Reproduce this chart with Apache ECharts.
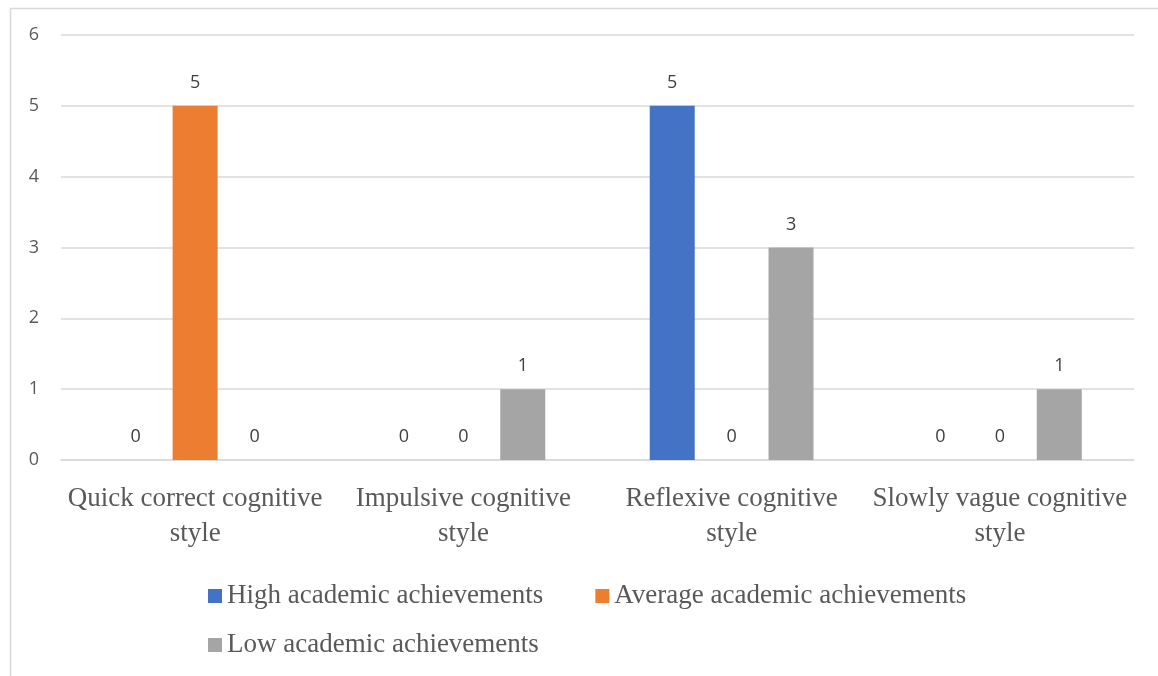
<!DOCTYPE html>
<html>
<head>
<meta charset="utf-8">
<script src="https://cdn.jsdelivr.net/npm/echarts@6/dist/echarts.min.js"></script>
<style>
html,body{margin:0;padding:0;background:#fff;}
#c{width:1158px;height:676px;}
</style>
</head>
<body>
<div id="c"></div>
<script>
const categories = ["Quick correct cognitive style", "Impulsive cognitive style", "Reflexive cognitive style", "Slowly vague cognitive style"];
const seriesNames = ["High academic achievements", "Average academic achievements", "Low academic achievements"];
const highValues = [0, 0, 5, 0];
const averageValues = [5, 0, 0, 0];
const lowValues = [0, 1, 3, 1];
const colors = ["#4472C4", "#ED7D31", "#A5A5A5"];
const yTicks = [0, 1, 2, 3, 4, 5, 6];

const chart = echarts.init(document.getElementById('c'));
const serif = "'Liberation Serif', 'DejaVu Serif', serif";
const sans = "'Open Sans', 'Liberation Sans', sans-serif";
const dataSets = [highValues, averageValues, lowValues];

chart.setOption({
  animation: false,
  graphic: [{
    type: 'rect', left: 8, top: 6, silent: true,
    shape: { width: 1170, height: 690 },
    style: { fill: 'none', stroke: '#d9d9d9', lineWidth: 1.5 }
  }],
  grid: { left: 61, right: 24, top: 35, bottom: 216 },
  legend: [{
    data: seriesNames.slice(0, 2),
    left: 203, top: 576,
    icon: 'rect', itemWidth: 14, itemHeight: 14, itemGap: 52,
    textStyle: { fontFamily: serif, fontSize: 27, lineHeight: 30, color: '#595959' }
  }, {
    data: seriesNames.slice(2),
    left: 203, top: 625,
    icon: 'rect', itemWidth: 14, itemHeight: 14,
    textStyle: { fontFamily: serif, fontSize: 27, lineHeight: 30, color: '#595959' }
  }],
  xAxis: {
    type: 'category',
    data: categories,
    axisLine: { show: true, lineStyle: { color: '#d9d9d9', width: 1.5 } },
    axisTick: { show: false },
    axisLabel: {
      interval: 0, hideOverlap: false,
      margin: 21,
      fontFamily: serif, fontSize: 27, color: '#595959', lineHeight: 35,
      formatter: v => v.replace(/ style$/, '\nstyle')
    }
  },
  yAxis: {
    type: 'value',
    min: yTicks[0], max: yTicks[yTicks.length - 1], interval: 1,
    axisLine: { show: false },
    axisTick: { show: false },
    splitLine: { lineStyle: { color: '#d9d9d9', width: 1.5 } },
    axisLabel: { margin: 22, fontFamily: sans, fontSize: 18, color: '#595959' }
  },
  series: seriesNames.map((name, i) => ({
    name: name,
    type: 'bar',
    data: dataSets[i],
    barWidth: 45,
    barGap: '32%',
    itemStyle: { color: colors[i] },
    label: {
      show: true, position: 'top', distance: 14,
      fontFamily: sans, fontSize: 18, color: '#404040'
    }
  }))
});
</script>
</body>
</html>
